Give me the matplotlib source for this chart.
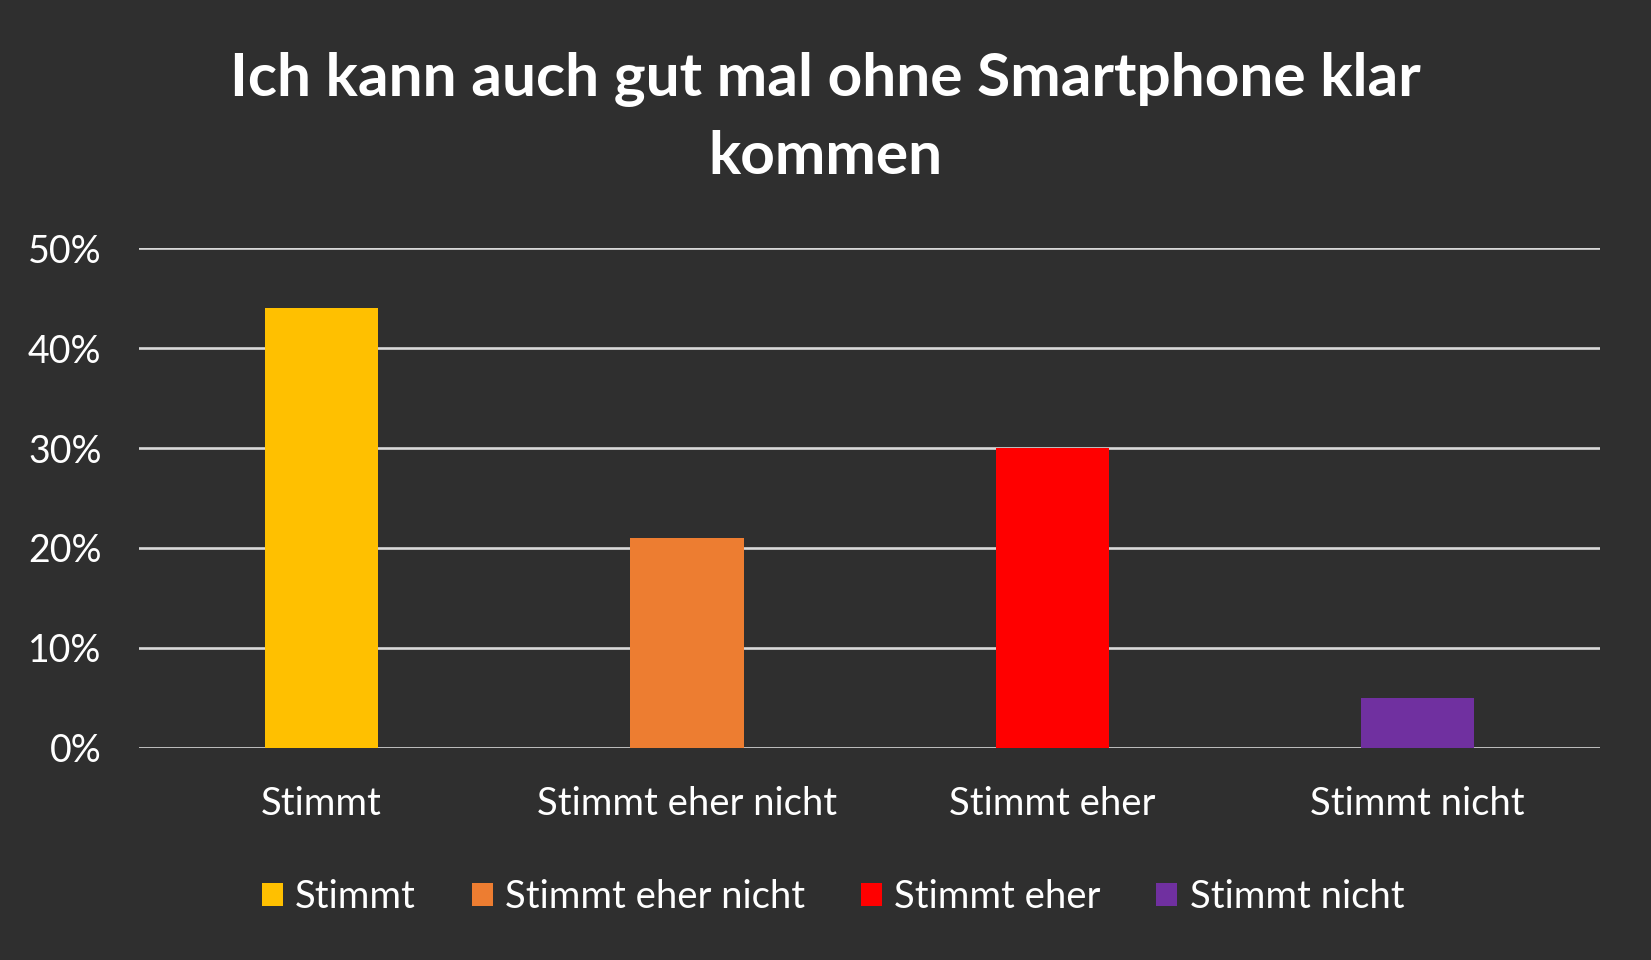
import matplotlib
matplotlib.use("Agg")
import matplotlib.pyplot as plt
from matplotlib.patches import Patch

categories = ["Stimmt", "Stimmt eher nicht", "Stimmt eher", "Stimmt nicht"]
values = [44, 21, 30, 5]
colors = ["#FFC000", "#ED7D31", "#FF0000", "#7030A0"]
yticks = [0, 10, 20, 30, 40, 50]
ytick_labels = ["0%", "10%", "20%", "30%", "40%", "50%"]
title = "Ich kann auch gut mal ohne Smartphone klar\nkommen"

bg = "#2F2F2F"
plt.rcParams["font.family"] = ["Lato", "DejaVu Sans"]

fig = plt.figure(figsize=(16.51, 9.6), dpi=100, facecolor=bg)
ax = fig.add_axes([0.0842, 0.2213, 0.885, 0.5199], facecolor=bg)

x = list(range(len(categories)))
ax.bar(x, values, width=0.31, color=colors, zorder=3)
ax.set_xlim(-0.5, len(categories) - 0.5)
ax.set_ylim(0, 50)
ax.set_yticks(yticks)
ax.set_yticklabels(ytick_labels, color="white", fontsize=27)
ax.set_xticks(x)
ax.set_xticklabels(categories, color="white", fontsize=27.5)
ax.tick_params(axis="both", length=0)
ax.tick_params(axis="y", pad=27)
ax.tick_params(axis="x", pad=27.5)
for lab in ax.get_yticklabels():
    lab.set_horizontalalignment("right")
ax.grid(axis="y", color="#D9D9D9", linewidth=1.9, zorder=1)
ax.set_axisbelow(True)
for s in ax.spines.values():
    s.set_visible(False)

fig.text(0.5, 0.877, title, ha="center", va="center", color="white",
         fontsize=43.5, fontweight="bold", linespacing=1.51)

handles = [Patch(facecolor=c, edgecolor="none") for c in colors]
fig.legend(handles, categories, loc="center", bbox_to_anchor=(0.5045, 0.066),
           ncol=4, frameon=False, fontsize=27.5, labelcolor="white",
           handlelength=0.55, handleheight=0.55, handletextpad=0.33,
           columnspacing=1.45)

fig.savefig("out.png", dpi=100, facecolor=bg)
